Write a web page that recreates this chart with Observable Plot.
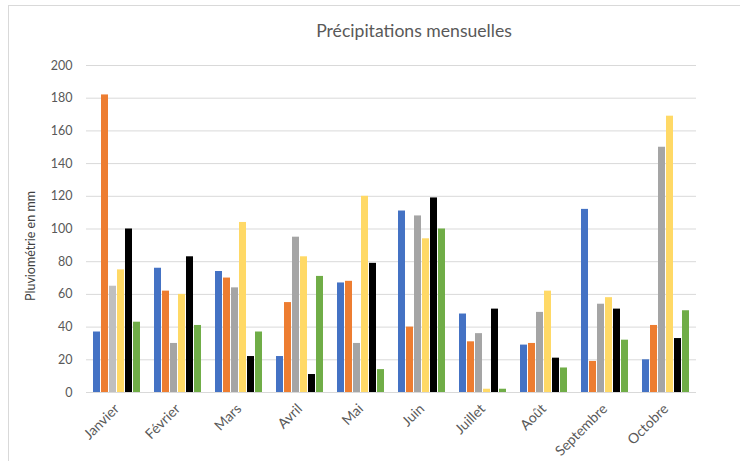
<!DOCTYPE html>
<html lang="fr">
<head>
<meta charset="utf-8">
<script src="https://cdn.jsdelivr.net/npm/d3@7"></script>
<script src="https://cdn.jsdelivr.net/npm/@observablehq/plot@0.6"></script>
<style>
  html, body { margin: 0; padding: 0; background: #fff; }
  #chart { position: relative; width: 744px; height: 461px; overflow: hidden; font-family: Lato, "Open Sans", sans-serif; }
  #frame { position: absolute; left: 8px; top: 5px; width: 732px; height: 470px; border-left: 1px solid #d9d9d9; border-top: 1px solid #d9d9d9; box-sizing: border-box; }
  #title { position: absolute; left: 0; width: 828px; top: 19px; text-align: center; font-size: 17.6px; color: #595959; line-height: 24px; }
  #ylabel { position: absolute; left: 30px; top: 246px; transform: translate(-50%, -50%) rotate(-90deg); white-space: nowrap; font-size: 12.5px; color: #404040; }
  #plot { position: absolute; left: 0; top: 0; }
  #plot svg g[aria-label="fx-axis tick label"] text { font-size: 14px; }
</style>
</head>
<body>
<div id="chart">
  <div id="frame"></div>
  <div id="plot"></div>
  <div id="title">Précipitations mensuelles</div>
  <div id="ylabel">Pluviométrie en mm</div>
</div>
<script>
// Monthly rainfall, six series per month (mm)
const months = ["Janvier", "Février", "Mars", "Avril", "Mai", "Juin", "Juillet", "Août", "Septembre", "Octobre"];
const series = ["Série 1", "Série 2", "Série 3", "Série 4", "Série 5", "Série 6"];

const serie1 = [37, 76, 74, 22, 67, 111, 48, 29, 112, 20];
const serie2 = [182, 62, 70, 55, 68, 40, 31, 30, 19, 41];
const serie3 = [65, 30, 64, 95, 30, 108, 36, 49, 54, 150];
const serie4 = [75, 60, 104, 83, 120, 94, 2, 62, 58, 169];
const serie5 = [100, 83, 22, 11, 79, 119, 51, 21, 51, 33];
const serie6 = [43, 41, 37, 71, 14, 100, 2, 15, 32, 50];

const yTicks = [0, 20, 40, 60, 80, 100, 120, 140, 160, 180, 200];

// Series colours, with one point drawn in a lighter shade
const palette = ["#4472C4", "#ED7D31", "#A5A5A5", "#FFD966", "#000000", "#70AD47"];
const pointColor = {month: "Janvier", series: "Série 3", color: "#BFBFBF"};

const values = [serie1, serie2, serie3, serie4, serie5, serie6];
const rows = [];
months.forEach((m, i) => {
  series.forEach((s, j) => {
    const fill = (m === pointColor.month && s === pointColor.series) ? pointColor.color : palette[j];
    rows.push({month: m, series: s, value: values[j][i], fill});
  });
});

const chart = Plot.plot({
  width: 744,
  height: 461,
  marginLeft: 81,
  marginRight: 44,
  marginTop: 65,
  marginBottom: 69,
  style: {fontFamily: "Lato, 'Open Sans', sans-serif", fontSize: "12.5px", color: "#595959", background: "transparent", overflow: "visible"},
  fx: {domain: months, padding: 0, label: null, tickSize: 0, tickRotate: -45, tickPadding: 14},
  x: {domain: series, paddingInner: 0.15, paddingOuter: 0.776, axis: null},
  y: {domain: [0, 200], ticks: yTicks, tickSize: 0, tickPadding: 14, label: null},
  color: {type: "identity"},
  marks: [
    Plot.ruleY(yTicks, {stroke: "#d9d9d9", strokeWidth: 1}),
    Plot.barY(rows, {fx: "month", x: "series", y: "value", fill: "fill"})
  ]
});

document.getElementById("plot").appendChild(chart);
</script>
</body>
</html>
